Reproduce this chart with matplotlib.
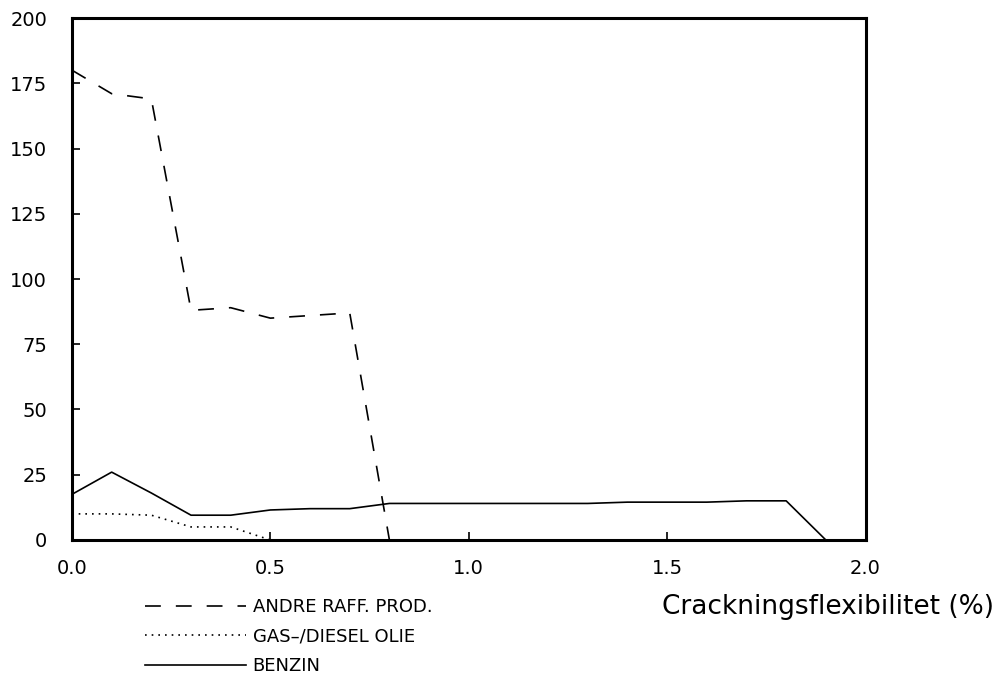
import numpy as np
import matplotlib.pyplot as plt

plt.rcParams['font.family'] = ['DejaVu Sans']

# cracking flexibility (%) and product volumes
flex = [0.0, 0.1, 0.2, 0.3, 0.4, 0.5, 0.6, 0.7, 0.8, 0.9, 1.0, 1.1, 1.2,
        1.3, 1.4, 1.5, 1.6, 1.7, 1.8, 1.9, 2.0]
andre_raff = [180, 171, 169, 88, 89, 85, 86, 87, 0]
gas_diesel = [10, 10, 9.5, 5, 5, 0]
benzin = [17.5, 26, 18, 9.5, 9.5, 11.5, 12, 12, 14, 14, 14, 14, 14,
          14, 14.5, 14.5, 14.5, 15, 15, 0, 0]

fig = plt.figure(figsize=(10.07, 6.85), dpi=100)
ax = fig.add_axes([0.0715, 0.2117, 0.788, 0.762])

ax.plot(flex[:len(andre_raff)], andre_raff, color='black', lw=1.2,
        dashes=(9.5, 9), label='ANDRE RAFF. PROD.')
ax.plot(flex[:len(gas_diesel)], gas_diesel, color='black', lw=1.2,
        linestyle=(0, (1, 3)), label='GAS\u2013/DIESEL OLIE')
ax.plot(flex, benzin, color='black', lw=1.2, label='BENZIN')

ax.set_xlim(0, 2.0)
ax.set_ylim(0, 200)
ax.set_xticks([0.0, 0.5, 1.0, 1.5, 2.0])
ax.set_xticklabels(['0.0', '0.5', '1.0', '1.5', '2.0'])
ax.set_yticks(np.arange(0, 201, 25))
ax.tick_params(direction='in', length=6, width=1.2, labelsize=14,
               colors='black')
ax.tick_params(axis='y', pad=18)
ax.tick_params(axis='x', pad=14)
for s in ax.spines.values():
    s.set_linewidth(2.2)

fig.text(0.657, 0.114, 'Crackningsflexibilitet (%)', fontsize=19,
         ha='left', va='center')

leg = ax.legend(loc='upper left', bbox_to_anchor=(0.128, 0.15),
                bbox_transform=fig.transFigure, frameon=False, fontsize=13,
                handlelength=5.6, handletextpad=0.35, labelspacing=0.62)

fig.savefig('out.png', dpi=100)
